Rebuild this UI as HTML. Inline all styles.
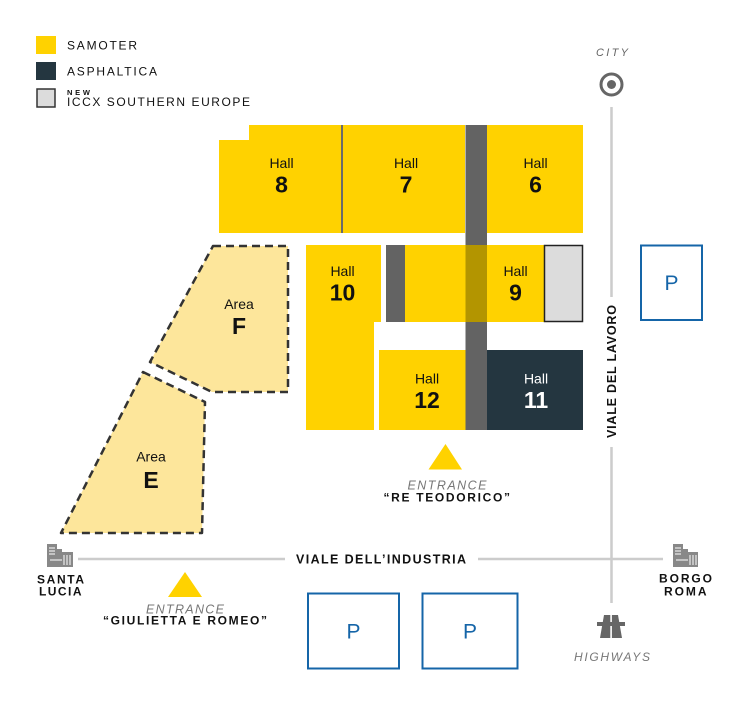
<!DOCTYPE html>
<html><head><meta charset="utf-8"><style>
html,body{margin:0;padding:0;background:#fff;}
svg{display:block;}
text{font-family:"Liberation Sans",Arial,sans-serif;}
</style></head><body>
<svg width="750" height="720" viewBox="0 0 750 720" xmlns="http://www.w3.org/2000/svg">
<rect width="750" height="720" fill="#fff"/>
<!-- Legend -->
<rect x="36" y="36" width="20" height="18" fill="#FFD200"/>
<rect x="36" y="62" width="20" height="18" fill="#243640"/>
<rect x="37" y="89" width="18" height="18" fill="#DCDCDC" stroke="#333" stroke-width="1.5"/>
<text x="67" y="49.5" font-size="12" fill="#111" textLength="70" lengthAdjust="spacing">SAMOTER</text>
<text x="67" y="75.5" font-size="12" fill="#111" textLength="90" lengthAdjust="spacing">ASPHALTICA</text>
<text x="67" y="95" font-size="7.5" font-weight="bold" fill="#111" textLength="23" lengthAdjust="spacing">NEW</text>
<text x="67" y="106" font-size="12" fill="#111" textLength="183" lengthAdjust="spacing">ICCX SOUTHERN EUROPE</text>

<!-- Top halls -->
<polygon points="249,125 342,125 342,233 219,233 219,140 249,140" fill="#FFD200"/>
<rect x="342" y="125" width="123" height="108" fill="#FFD200"/>
<rect x="341" y="125" width="2" height="108" fill="#6b6b6b"/>
<rect x="487" y="125" width="96" height="108" fill="#FFD200"/>
<!-- gray band -->
<rect x="465.5" y="125" width="21.5" height="305" fill="#636363"/>

<!-- Hall 10 -->
<rect x="306" y="245" width="75" height="77" fill="#FFD200"/>
<rect x="306" y="321" width="68" height="109" fill="#FFD200"/>
<rect x="386" y="245" width="19" height="77" fill="#636363"/>
<!-- Hall 9 -->
<rect x="405" y="245" width="60.5" height="77" fill="#FFD200"/>
<rect x="465.5" y="245" width="21.5" height="77" fill="#B39500"/>
<rect x="487" y="245" width="57" height="77" fill="#FFD200"/>
<rect x="544.5" y="245.5" width="38" height="76" fill="#DCDCDC" stroke="#222" stroke-width="1.5"/>
<!-- Hall 12, 11 -->
<rect x="379" y="350" width="86.5" height="80" fill="#FFD200"/>
<rect x="487" y="350" width="96" height="80" fill="#243640"/>

<!-- Hall labels -->
<g text-anchor="middle" fill="#111">
<text x="281.5" y="168" font-size="14">Hall</text>
<text x="281.5" y="192.5" font-size="23" font-weight="bold">8</text>
<text x="406" y="168" font-size="14">Hall</text>
<text x="406" y="192.5" font-size="23" font-weight="bold">7</text>
<text x="535.5" y="168" font-size="14">Hall</text>
<text x="535.5" y="192.5" font-size="23" font-weight="bold">6</text>
<text x="342.5" y="276" font-size="14">Hall</text>
<text x="342.5" y="300.5" font-size="23" font-weight="bold">10</text>
<text x="515.5" y="276" font-size="14">Hall</text>
<text x="515.5" y="300.5" font-size="23" font-weight="bold">9</text>
<text x="427" y="383.5" font-size="14">Hall</text>
<text x="427" y="408" font-size="23" font-weight="bold">12</text>
</g>
<g text-anchor="middle" fill="#fff">
<text x="536" y="383.5" font-size="14">Hall</text>
<text x="536" y="408" font-size="23" font-weight="bold">11</text>
</g>

<!-- Areas -->
<polygon points="213,246 288,246 288,392 212,392 150,362" fill="#FDE69B" stroke="#333" stroke-width="2.5" stroke-dasharray="8,5" stroke-linejoin="round"/>
<polygon points="143,372 205,402 202,533 61,533" fill="#FDE69B" stroke="#333" stroke-width="2.5" stroke-dasharray="8,5" stroke-linejoin="round"/>
<g text-anchor="middle" fill="#111">
<text x="239" y="309" font-size="14">Area</text>
<text x="239" y="334" font-size="23" font-weight="bold">F</text>
<text x="151" y="461.5" font-size="14">Area</text>
<text x="151" y="488" font-size="23" font-weight="bold">E</text>
</g>

<!-- Roads -->
<g stroke="#CCCCCC" stroke-width="2.5" fill="none">
<line x1="611.5" y1="107" x2="611.5" y2="297"/>
<line x1="611.5" y1="447" x2="611.5" y2="603"/>
<line x1="78" y1="559" x2="285" y2="559"/>
<line x1="478" y1="559" x2="663" y2="559"/>
</g>
<text x="296" y="563.5" font-size="12.5" font-weight="bold" fill="#111" textLength="170" lengthAdjust="spacing">VIALE DELL’INDUSTRIA</text>
<text transform="translate(616,438) rotate(-90)" x="0" y="0" font-size="12.5" font-weight="bold" fill="#111" textLength="133" lengthAdjust="spacing">VIALE DEL LAVORO</text>

<!-- City -->
<text x="596" y="56" font-size="11" font-style="italic" fill="#666" textLength="32" lengthAdjust="spacing">CITY</text>
<circle cx="611.5" cy="84.5" r="10.5" fill="none" stroke="#666" stroke-width="3"/>
<circle cx="611.5" cy="84.5" r="4.5" fill="#666"/>

<!-- Parking -->
<g fill="none" stroke="#1565A8" stroke-width="2">
<rect x="641" y="245.5" width="61" height="74.5"/>
<rect x="308" y="593.5" width="91" height="75"/>
<rect x="422.5" y="593.5" width="95" height="75"/>
</g>
<g text-anchor="middle" fill="#1565A8" font-size="21">
<text x="671.5" y="290">P</text>
<text x="353.5" y="638.5">P</text>
<text x="470" y="638.5">P</text>
</g>

<!-- Entrances -->
<polygon points="445.5,444 462,469.5 428.5,469.5" fill="#FFD200"/>
<text x="407.5" y="489.5" font-size="12.5" font-style="italic" fill="#777" textLength="79" lengthAdjust="spacing">ENTRANCE</text>
<text x="383.5" y="501.5" font-size="12" font-weight="bold" fill="#111" textLength="126.5" lengthAdjust="spacing">“RE TEODORICO”</text>

<polygon points="185,572 202,597 168,597" fill="#FFD200"/>
<text x="146" y="613.5" font-size="12.5" font-style="italic" fill="#777" textLength="78" lengthAdjust="spacing">ENTRANCE</text>
<text x="103" y="624.5" font-size="12" font-weight="bold" fill="#111" textLength="164" lengthAdjust="spacing">“GIULIETTA E ROMEO”</text>

<!-- Building icons -->
<g fill="#888">
<rect x="47" y="544" width="10" height="23"/>
<rect x="57" y="549" width="5" height="18"/>
<rect x="62" y="552" width="11" height="15"/>
<rect x="673" y="544" width="10" height="23"/>
<rect x="683" y="549" width="5" height="18"/>
<rect x="688" y="552" width="10" height="15"/>
</g>
<g stroke="#fff" stroke-width="1">
<line x1="49" y1="548" x2="55" y2="548"/><line x1="49" y1="551" x2="55" y2="551"/><line x1="49" y1="554" x2="55" y2="554"/>
<line x1="64" y1="555" x2="64" y2="565"/><line x1="67" y1="555" x2="67" y2="565"/><line x1="70" y1="555" x2="70" y2="565"/>
<line x1="50" y1="560" x2="62" y2="560"/>
<line x1="675" y1="548" x2="681" y2="548"/><line x1="675" y1="551" x2="681" y2="551"/><line x1="675" y1="554" x2="681" y2="554"/>
<line x1="690" y1="555" x2="690" y2="565"/><line x1="693" y1="555" x2="693" y2="565"/><line x1="696" y1="555" x2="696" y2="565"/>
<line x1="676" y1="560" x2="688" y2="560"/>
</g>
<g text-anchor="start" font-size="12" font-weight="bold" fill="#111">
<text x="37" y="583.5" textLength="47" lengthAdjust="spacing">SANTA</text>
<text x="39" y="595.5" textLength="42.5" lengthAdjust="spacing">LUCIA</text>
<text x="659" y="582.5" textLength="53" lengthAdjust="spacing">BORGO</text>
<text x="664" y="595.5" textLength="42.5" lengthAdjust="spacing">ROMA</text>
</g>

<!-- Highway icon -->
<polygon points="604,615 618,615 622,638 600,638" fill="#666"/>
<rect x="597" y="622" width="28" height="4" fill="#666"/>
<rect x="610.3" y="615" width="1.6" height="7" fill="#fff"/>
<rect x="610.3" y="626" width="1.6" height="12" fill="#fff"/>
<text x="574" y="661" font-size="12" font-style="italic" fill="#777" textLength="76" lengthAdjust="spacing">HIGHWAYS</text>
</svg>
</body></html>
